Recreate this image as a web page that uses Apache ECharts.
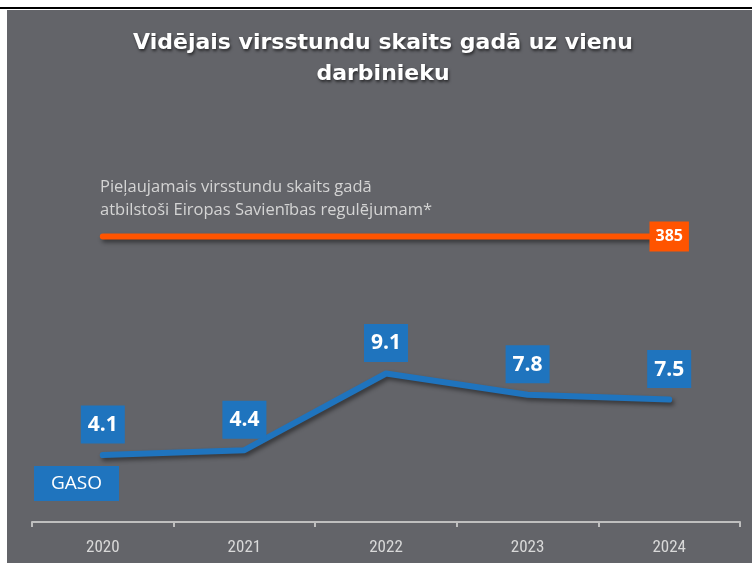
<!DOCTYPE html>
<html><head><meta charset="utf-8">
<script src="https://cdn.jsdelivr.net/npm/echarts@6/dist/echarts.min.js"></script>
<style>
html,body{margin:0;padding:0;background:#fff;}
#topline{position:absolute;left:0;top:7px;width:752px;height:2px;background:#000;}
#bg{position:absolute;left:7px;top:10px;width:745px;height:553px;background:#636469;}
#c{position:absolute;left:0;top:0;width:752px;height:563px;}
</style>
</head><body>
<div id="topline"></div><div id="bg"></div><div id="c"></div>
<script>
const titleText = 'Vidējais virsstundu skaits gadā uz vienu\ndarbinieku';
const years = ['2020', '2021', '2022', '2023', '2024'];
const gasoName = 'GASO';
const gasoValues = [4.1, 4.4, 9.1, 7.8, 7.5];
const limitName = 'Pieļaujamais virsstundu skaits gadā\natbilstoši Eiropas Savienības regulējumam*';
const limitValues = [385, 385, 385, 385, 385];

const blue = '#1F74BE';
const orange = '#FF5400';

const chart = echarts.init(document.getElementById('c'), null, {renderer: 'canvas'});
const lastIdx = limitValues.length - 1;
chart.setOption({
  backgroundColor: 'transparent',
  animation: false,
  title: {
    text: titleText,
    left: 383,
    top: 28,
    padding: 0,
    textAlign: 'center',
    textStyle: {
      color: '#FFFFFF',
      fontFamily: 'DejaVu Sans',
      fontWeight: 'bold',
      fontSize: 22,
      lineHeight: 31,
      textShadowColor: 'rgba(0,0,0,0.6)',
      textShadowBlur: 3,
      textShadowOffsetX: 1,
      textShadowOffsetY: 2
    }
  },
  grid: {left: 32, right: 12, top: 114, bottom: 41, containLabel: false},
  xAxis: {
    type: 'category',
    data: years,
    boundaryGap: true,
    axisLine: {lineStyle: {color: '#BFBFBF', width: 2}},
    axisTick: {show: true, length: 5, lineStyle: {color: '#BFBFBF', width: 2}},
    axisLabel: {
      color: '#D9D9D9',
      fontSize: 17,
      fontFamily: '"Liberation Sans Narrow", "Roboto Condensed", Roboto, sans-serif',
      margin: 17
    },
    splitLine: {show: false}
  },
  yAxis: [
    {type: 'value', min: 0, max: 25, show: false},
    {type: 'value', min: 0, max: 550, show: false}
  ],
  series: [
    {
      name: limitName,
      type: 'line',
      yAxisIndex: 1,
      data: limitValues.map((v, i) => i === lastIdx ? {value: v, label: {show: true}} : v),
      symbol: 'circle',
      symbolSize: 1,
      showSymbol: true,
      itemStyle: {color: orange},
      lineStyle: {
        color: orange, width: 6, cap: 'round',
        shadowColor: 'rgba(0,0,0,0.45)', shadowBlur: 4, shadowOffsetX: 2, shadowOffsetY: 3
      },
      label: {
        show: false,
        position: 'inside',
        color: '#FFFFFF',
        fontFamily: '"Open Sans", sans-serif',
        fontWeight: 'bold',
        fontSize: 16,
        lineHeight: 18,
        backgroundColor: orange,
        padding: [6, 6, 6, 6]
      },
      z: 3
    },
    {
      name: gasoName,
      type: 'line',
      yAxisIndex: 0,
      data: gasoValues,
      symbol: 'circle',
      symbolSize: 1,
      showSymbol: true,
      itemStyle: {color: blue},
      lineStyle: {
        color: blue, width: 6, cap: 'round', join: 'round',
        shadowColor: 'rgba(0,0,0,0.45)', shadowBlur: 4, shadowOffsetX: 2, shadowOffsetY: 3
      },
      label: {
        show: true,
        position: 'top',
        distance: 11,
        color: '#FFFFFF',
        fontFamily: '"Open Sans", sans-serif',
        fontWeight: 'bold',
        fontSize: 21,
        lineHeight: 25,
        backgroundColor: blue,
        padding: [7, 7, 6, 7]
      },
      z: 4
    }
  ],
  graphic: [
    {
      type: 'text',
      left: 100,
      top: 176,
      style: {
        text: limitName,
        fill: '#D4D4D4',
        font: '16.5px "Open Sans", sans-serif',
        lineHeight: 23
      }
    },
    {
      type: 'text',
      left: 34,
      top: 466,
      style: {
        text: gasoName,
        fill: '#FFFFFF',
        font: '19px "Open Sans", sans-serif',
        lineHeight: 23,
        backgroundColor: blue,
        padding: [6, 17, 6, 17]
      }
    }
  ]
});
</script>
</body></html>
